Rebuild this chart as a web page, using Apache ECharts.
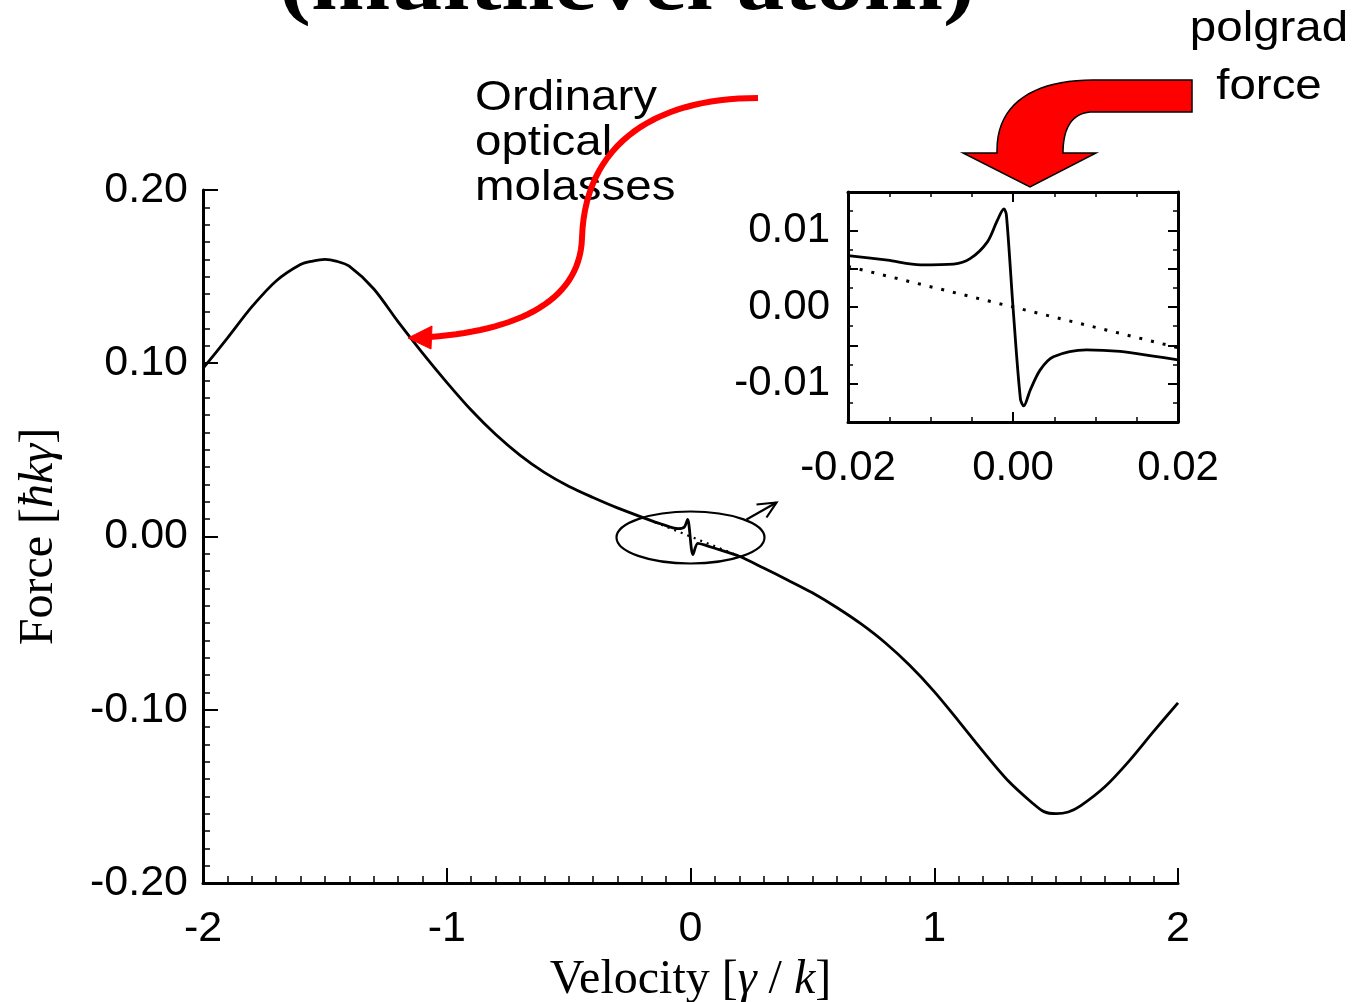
<!DOCTYPE html>
<html>
<head>
<meta charset="utf-8">
<title>Force vs velocity (multilevel atom)</title>
<script src="https://cdn.jsdelivr.net/npm/echarts@6.0.0/dist/echarts.min.js"></script>
<style>
  html, body { margin: 0; padding: 0; background: #fff; }
  #main { width: 1357px; height: 1002px; }
</style>
</head>
<body>
<div id="main"></div>
<script type="text/javascript">

// main curve: velocity [gamma/k] and force [hbar k gamma]
var mainVelocity = [-2.0, -1.9, -1.8, -1.7, -1.6, -1.55, -1.5, -1.45, -1.4, -1.3, -1.2, -1.1, -1.0,
    -0.9, -0.8, -0.7, -0.6, -0.5, -0.4, -0.3, -0.2, -0.12, -0.05, -0.025, -0.012,
    0.010, 0.03, 0.06, 0.1, 0.2, 0.3, 0.4, 0.5, 0.6, 0.7, 0.8, 0.9, 1.0,
    1.1, 1.2, 1.3, 1.4, 1.45, 1.5, 1.55, 1.6, 1.7, 1.8, 1.9, 2.0];
var mainForce = [0.097, 0.1145, 0.1325, 0.1475, 0.157, 0.159, 0.160, 0.1588, 0.156, 0.143, 0.124, 0.106, 0.089,
    0.073, 0.059, 0.047, 0.037, 0.029, 0.0225, 0.0165, 0.0112, 0.0072, 0.0045, 0.0055, 0.0098,
    -0.0104, -0.0040, -0.0050, -0.0068, -0.0114, -0.0182, -0.0252, -0.0325, -0.041, -0.0505, -0.0615, -0.0745, -0.0895,
    -0.1065, -0.124, -0.1405, -0.1535, -0.1588, -0.160, -0.1590, -0.1555, -0.1445, -0.1295, -0.1125, -0.096];

// ordinary molasses (dotted) near zero in the main plot
var molassesVelocity = [-0.2, 0.2];
var molassesForce = [0.0113, -0.0113];

// inset: zoom around v = 0
var insetVelocity = [-0.020, -0.0152, -0.0112, -0.0072, -0.0052, -0.0031, -0.0019, -0.0011, -0.0008,
    0.0, 0.0009, 0.0013, 0.0021, 0.0033, 0.0049, 0.0089, 0.0130, 0.0170, 0.020];
var insetForce = [0.0067, 0.0061, 0.0055, 0.0056, 0.0063, 0.0085, 0.0113, 0.0128, 0.0120,
    0.0, -0.0120, -0.0129, -0.0108, -0.0082, -0.0065, -0.0056, -0.0058, -0.0064, -0.0069];
var insetMolassesVelocity = [-0.02, 0.02];
var insetMolassesForce = [0.0053, -0.0053];

function pairs(xs, ys) {
    var out = [];
    for (var i = 0; i < xs.length; i++) out.push([xs[i], ys[i]]);
    return out;
}

var black = '#000';
var sans = 'Liberation Sans';
var serif = 'Liberation Serif';

function mainAxis(extra) {
    var base = {
        type: 'value',
        splitLine: { show: false },
        axisLine: { onZero: false, lineStyle: { color: black, width: 3 } },
        axisTick: { inside: true, length: 15, lineStyle: { color: black, width: 2 } },
        minorTick: { show: true, splitNumber: 10, length: 7, lineStyle: { color: black, width: 1.5 } },
        axisLabel: { color: black, fontSize: 43, fontFamily: sans, showMinLabel: true, showMaxLabel: true }
    };
    return Object.assign(base, extra);
}

function insetAxis(extra) {
    var base = {
        type: 'value',
        gridIndex: 1,
        splitLine: { show: false },
        axisLine: { onZero: false, lineStyle: { color: black, width: 3 } },
        axisTick: { inside: true, length: 10, lineStyle: { color: black, width: 2 } },
        minorTick: { show: true, length: 5, lineStyle: { color: black, width: 1.5 } },
        axisLabel: { color: black, fontSize: 42, fontFamily: sans, showMinLabel: true, showMaxLabel: true }
    };
    return Object.assign(base, extra);
}

var nameStyle = {
    color: black, fontFamily: serif, fontSize: 48,
    rich: { i: { fontFamily: serif, fontStyle: 'italic', fontSize: 48, color: black } }
};

var option = {
    animation: false,
    backgroundColor: '#fff',
    grid: [
        { left: 203, top: 190, width: 975, height: 693, outerBoundsMode: 'none' },
        { left: 848, top: 192, width: 330, height: 230, outerBoundsMode: 'none' }
    ],
    xAxis: [
        mainAxis({
            gridIndex: 0, min: -2, max: 2, interval: 1,
            axisLabel: { color: black, fontSize: 43, fontFamily: sans, margin: 25,
                formatter: function (v) { return String(Math.round(v)); } },
            name: 'Velocity [{i|γ} / {i|k}]', nameLocation: 'middle', nameGap: 70,
            nameTextStyle: nameStyle
        }),
        insetAxis({
            min: -0.02, max: 0.02, interval: 0.02, position: 'bottom',
            minorTick: { show: true, splitNumber: 4, length: 5, lineStyle: { color: black, width: 1.5 } },
            axisLabel: { color: black, fontSize: 42, fontFamily: sans, margin: 25,
                formatter: function (v) { return (Math.round(v * 100) / 100).toFixed(2); } }
        }),
        insetAxis({
            min: -0.02, max: 0.02, interval: 0.02, position: 'top',
            minorTick: { show: true, splitNumber: 4, length: 5, lineStyle: { color: black, width: 1.5 } },
            axisLabel: { show: false }
        })
    ],
    yAxis: [
        mainAxis({
            gridIndex: 0, min: -0.2, max: 0.2, interval: 0.1,
            axisLabel: { color: black, fontSize: 43, fontFamily: sans, margin: 15,
                formatter: function (v) { return (Math.round(v * 100) / 100).toFixed(2); } },
            name: 'Force [{i|ħkγ}]', nameLocation: 'middle', nameGap: 140,
            nameTextStyle: nameStyle
        }),
        insetAxis({
            min: -0.015, max: 0.015, interval: 0.005, position: 'left',
            minorTick: { show: true, splitNumber: 2, length: 5, lineStyle: { color: black, width: 1.5 } },
            axisLabel: { color: black, fontSize: 42, fontFamily: sans, margin: 18,
                formatter: function (v) {
                    var r = Math.round(v * 1000);
                    return r % 10 === 0 ? (r / 1000).toFixed(2) : '';
                } }
        }),
        insetAxis({
            min: -0.015, max: 0.015, interval: 0.005, position: 'right',
            minorTick: { show: true, splitNumber: 2, length: 5, lineStyle: { color: black, width: 1.5 } },
            axisLabel: { show: false }
        })
    ],
    series: [
        {
            type: 'line', xAxisIndex: 0, yAxisIndex: 0, data: pairs(mainVelocity, mainForce),
            smooth: 0.3, symbol: 'none', lineStyle: { color: black, width: 2.8 }, z: 3
        },
        {
            type: 'line', xAxisIndex: 0, yAxisIndex: 0, data: pairs(molassesVelocity, molassesForce),
            symbol: 'none', lineStyle: { color: black, width: 2.2, type: [2, 5] }, z: 2
        },
        {
            type: 'line', xAxisIndex: 1, yAxisIndex: 1, data: pairs(insetVelocity, insetForce),
            smooth: 0.3, symbol: 'none', lineStyle: { color: black, width: 2.8 }, z: 3
        },
        {
            type: 'line', xAxisIndex: 1, yAxisIndex: 1, data: pairs(insetMolassesVelocity, insetMolassesForce),
            symbol: 'none', lineStyle: { color: black, width: 3, type: [3, 9] }, z: 2
        }
    ]
};

var myChart = echarts.init(document.getElementById('main'), null, { renderer: 'canvas' });
myChart.setOption(option);

// cubic bezier sampled into points, for the hand-drawn arrows
function bez(p0, p1, p2, p3, n) {
    var pts = [];
    for (var i = 0; i <= n; i++) {
        var t = i / n, u = 1 - t;
        pts.push([
            u * u * u * p0[0] + 3 * u * u * t * p1[0] + 3 * u * t * t * p2[0] + t * t * t * p3[0],
            u * u * u * p0[1] + 3 * u * u * t * p1[1] + 3 * u * t * t * p2[1] + t * t * t * p3[1]
        ]);
    }
    return pts;
}

var thinArrow = bez([758, 98], [660, 98], [585, 140], [582, 238], 30)
    .concat(bez([582, 238], [580, 300], [520, 330], [430, 337], 30).slice(1));

var blockArrow = [[1192, 80]]
    .concat(bez([1093, 80], [1036, 80], [997, 102], [997, 150], 20))
    .concat([[997, 153], [963, 153], [1030, 187], [1096, 153], [1063, 153]])
    .concat(bez([1063, 153], [1063, 128], [1072, 112], [1093, 112], 20))
    .concat([[1192, 112]]);

// ellipse around the polgrad feature, positioned from the data origin
var o = myChart.convertToPixel({ xAxisIndex: 0, yAxisIndex: 0 }, [0, 0]);

var textFont = '42px "Liberation Sans"';

myChart.setOption({
    graphic: [
        {
            type: 'text', x: 627, y: -12, scaleX: 1.19, z: 10,
            style: { text: '(multilevel atom)', font: 'bold 80px "Liberation Serif"',
                fill: black, align: 'center', verticalAlign: 'middle' }
        },
        {
            type: 'text', x: 475, y: 76, scaleX: 1.13, z: 10,
            style: { text: 'Ordinary\noptical\nmolasses', font: textFont, lineHeight: 45,
                fill: black, align: 'left', verticalAlign: 'top' }
        },
        {
            type: 'text', x: 1269, y: 7, scaleX: 1.13, z: 10,
            style: { text: 'polgrad', font: textFont, lineHeight: 45,
                fill: black, align: 'center', verticalAlign: 'top' }
        },
        {
            type: 'text', x: 1269, y: 65, scaleX: 1.13, z: 10,
            style: { text: 'force', font: textFont, lineHeight: 45,
                fill: black, align: 'center', verticalAlign: 'top' }
        },
        {
            type: 'polyline', z: 20,
            shape: { points: thinArrow },
            style: { stroke: '#ff0000', lineWidth: 6, fill: null }
        },
        {
            type: 'polygon', z: 20,
            shape: { points: [[408, 338], [432, 326], [431, 349]] },
            style: { fill: '#ff0000', stroke: '#ff0000', lineWidth: 1 }
        },
        {
            type: 'polygon', z: 20,
            shape: { points: blockArrow },
            style: { fill: '#ff0000', stroke: black, lineWidth: 1.5 }
        },
        {
            type: 'ellipse', z: 15,
            shape: { cx: o[0], cy: o[1] + 1, rx: 74, ry: 26 },
            style: { fill: null, stroke: black, lineWidth: 2.2 }
        },
        {
            type: 'polyline', z: 15,
            shape: { points: [[o[0] + 56, o[1] - 17], [o[0] + 86, o[1] - 34]] },
            style: { stroke: black, lineWidth: 2.2, fill: null }
        },
        {
            type: 'polyline', z: 15,
            shape: { points: [[o[0] + 66, o[1] - 32], [o[0] + 86, o[1] - 34], [o[0] + 76, o[1] - 19]] },
            style: { stroke: black, lineWidth: 2.2, fill: null }
        }
    ]
});
</script>
</body>
</html>
